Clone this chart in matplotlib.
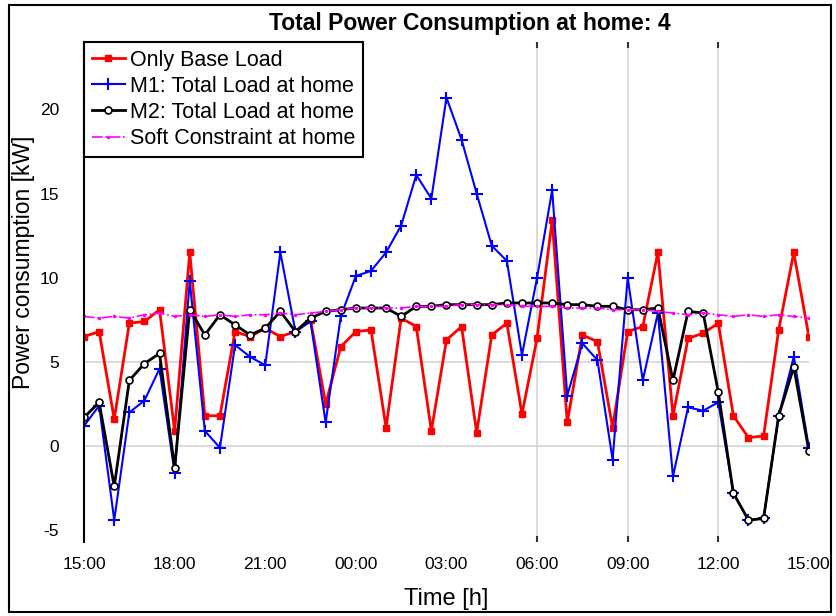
import matplotlib
matplotlib.use('Agg')
import matplotlib.pyplot as plt
from matplotlib.patches import Rectangle
import numpy as np

plt.rcParams['font.family'] = ['Liberation Sans', 'DejaVu Sans']
plt.rcParams['axes.unicode_minus'] = False

# half-hourly samples from 15:00 to 15:00 next day
time_h = np.arange(0, 24.5, 0.5)

base_load = [6.5, 6.8, 1.6, 7.3, 7.4, 8.1, 0.9, 11.5, 1.8, 1.8,
             6.8, 6.5, 7.0, 6.5, 6.8, 7.5, 2.5, 5.9, 6.8, 6.9,
             1.1, 7.6, 7.1, 0.9, 6.3, 7.1, 0.8, 6.6, 7.3, 1.9,
             6.4, 13.4, 1.4, 6.6, 6.2, 1.1, 6.8, 7.1, 11.5, 1.8,
             6.4, 6.7, 7.3, 1.8, 0.5, 0.6, 6.9, 11.5, 6.5]

m1_load = [1.2, 2.4, -4.4, 2.0, 2.7, 4.6, -1.6, 9.8, 0.9, -0.1,
           6.0, 5.3, 4.8, 11.5, 6.8, 7.4, 1.4, 7.7, 10.1, 10.4,
           11.5, 13.1, 16.1, 14.7, 20.7, 18.2, 15.0, 11.9, 11.0, 5.4,
           10.0, 15.2, 3.0, 6.1, 5.1, -0.8, 10.0, 3.9, 7.9, -1.8,
           2.3, 2.1, 2.6, -2.8, -4.4, -4.3, 1.8, 5.3, -0.1]

m2_load = [1.7, 2.6, -2.4, 3.9, 4.9, 5.5, -1.3, 8.1, 6.6, 7.8,
           7.2, 6.6, 7.0, 8.0, 6.8, 7.6, 8.0, 8.1, 8.2, 8.2,
           8.2, 7.7, 8.3, 8.3, 8.4, 8.4, 8.4, 8.4, 8.5, 8.5,
           8.5, 8.5, 8.4, 8.4, 8.3, 8.3, 8.1, 8.1, 8.2, 3.9,
           8.0, 7.9, 3.2, -2.8, -4.4, -4.3, 1.8, 4.7, -0.3]

soft_constraint = [7.7, 7.6, 7.7, 7.6, 7.8, 7.9, 7.7, 7.8, 7.7, 7.8,
                   7.7, 7.8, 7.8, 7.9, 7.8, 7.9, 8.0, 8.1, 8.2, 8.2,
                   8.2, 8.2, 8.3, 8.3, 8.3, 8.4, 8.4, 8.4, 8.4, 8.3,
                   8.3, 8.3, 8.2, 8.2, 8.2, 8.1, 8.1, 8.1, 8.0, 7.9,
                   7.8, 7.9, 7.8, 7.7, 7.8, 7.7, 7.8, 7.7, 7.6]

tick_pos = [0, 3, 6, 9, 12, 15, 18, 21, 24]
tick_labels = ['15:00', '18:00', '21:00', '00:00', '03:00',
               '06:00', '09:00', '12:00', '15:00']

fig = plt.figure(figsize=(8.37, 6.16), dpi=100)
ax = fig.add_axes([0.1004, 0.1201, 0.866, 0.8117])

ax.plot(time_h, base_load, color='red', lw=2, marker='s', ms=4,
        label='Only Base Load')
ax.plot(time_h, m1_load, color='blue', lw=1.5, marker='+', ms=8, mew=1.5,
        label='M1: Total Load at home')
ax.plot(time_h, m2_load, color='black', lw=2, marker='o', ms=5,
        mfc='white', mew=1.2, label='M2: Total Load at home')
ax.plot(time_h, soft_constraint, color='magenta', lw=1.2, ls='-.',
        marker='.', ms=3, label='Soft Constraint at home')

ax.set_xlim(0, 24)
ax.set_ylim(-5.7, 24)
ax.set_xticks(tick_pos)
ax.set_xticklabels(tick_labels)
ax.set_yticks([-5, 0, 5, 10, 15, 20])
ax.tick_params(which='major', length=0, labelsize=12.5)
ax.tick_params(axis='x', which='major', pad=11)
ax.tick_params(axis='y', which='major', pad=18)

# sparse grid like the original figure
ax.xaxis.remove_overlapping_locs = False
ax.yaxis.remove_overlapping_locs = False
ax.set_xticks([15, 18, 21], minor=True)
ax.set_yticks([0, 5], minor=True)
ax.tick_params(axis='x', which='minor', length=4, width=1.5, top=True,
               bottom=True, color='#333333', direction='in')
ax.tick_params(axis='y', which='minor', length=0)
ax.grid(True, which='minor', color='#d4d4d4', lw=1.2)
ax.set_axisbelow(True)

for side in ['top', 'right', 'bottom']:
    ax.spines[side].set_visible(False)
ax.spines['left'].set_linewidth(1.5)

ax.set_title('Total Power Consumption at home: 4', fontsize=16.5,
             fontweight='bold', pad=9, x=0.532)
ax.set_xlabel('Time [h]', fontsize=17, labelpad=11)
ax.set_ylabel('Power consumption [kW]', fontsize=16.5)
ax.yaxis.set_label_coords(-0.068, 0.56)

leg = ax.legend(loc='upper left', bbox_to_anchor=(0, 1), borderaxespad=0,
                fontsize=15.5, fancybox=False, edgecolor='black',
                framealpha=1, handlelength=1.55, labelspacing=0.24,
                borderpad=0.35, handletextpad=0.25)
leg.get_frame().set_linewidth(1.5)

# black frame around the whole figure
fig.patches.append(Rectangle((0.0108, 0.0065), 0.982, 0.9854,
                             transform=fig.transFigure, fill=False,
                             edgecolor='black', lw=1.5))

plt.savefig('out.png', dpi=100)
